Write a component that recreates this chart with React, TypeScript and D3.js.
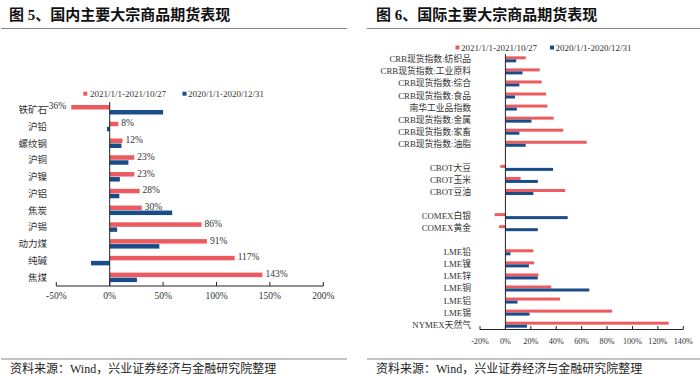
import React from "react";
import * as d3 from "d3";

const leftCats = ["铁矿石", "沪铅", "螺纹钢", "沪铜", "沪镍", "沪铝", "焦炭", "沪锡", "动力煤", "纯碱", "焦煤"];
const left2021 = [-36, 8, 12, 23, 23, 28, 30, 86, 91, 117, 143];
const left2020 = [50, -2.5, 11, 17.5, 9.5, 9, 58.5, 7, 46.5, -17.5, 25.5];
const leftTicks = [-50, 0, 50, 100, 150, 200];

const rightCats = [
  "CRB现货指数:纺织品", "CRB现货指数:工业原料", "CRB现货指数:综合", "CRB现货指数:食品",
  "南华工业品指数", "CRB现货指数:金属", "CRB现货指数:家畜", "CRB现货指数:油脂",
  "", "CBOT大豆", "CBOT玉米", "CBOT豆油", " ", "COMEX白银", "COMEX黄金", "  ",
  "LME铅", "LME镍", "LME锌", "LME铜", "LME铝", "LME锡", "NYMEX天然气",
];
const right2021 = [16, 27, 28.5, 32, 33, 38, 45.5, 64, null, -4, 12, 47, null, -8.5, -5, null, 22, 22.5, 26, 36, 43, 84, 128.5];
const right2020 = [8.5, 13.5, 11, 7.5, 9, 20.5, 11, 16, null, 37.5, 25.5, 22, null, 49, 25.5, null, 4, 18.5, 25.5, 66, 9.5, 19, 17];
const rightTicks = [-20, 0, 20, 40, 60, 80, 100, 120, 140];

const seriesNames = ["2021/1/1-2021/10/27", "2020/1/1-2020/12/31"];
const RED = "#EC5B5F";
const BLUE = "#1B4C8A";
const FONT = "'Liberation Serif', 'Noto Sans CJK SC', serif";

export default function App() {
  const xL = d3.scaleLinear().domain([-50, 200]).range([56.3, 323.3]);
  const yL = d3.scaleBand<string>().domain(leftCats).range([101.6, 286]).padding(0);
  const xR = d3.scaleLinear().domain([-20, 140]).range([480, 683.3]);
  const yR = d3.scaleBand<string>().domain(rightCats).range([53.3, 330.7]).padding(0);
  const axL = 286;
  const axR = 329.5;

  return (
    <svg width={700} height={379} style={{ position: "absolute", left: 0, top: 0, background: "#fff" }} fontFamily={FONT}>
      <rect x={0} y={0} width={700} height={379} fill="#fff" />
      {/* titles */}
      <text x={9} y={19.5} fontSize={15} fontWeight="bold" fill="#111">图 5、国内主要大宗商品期货表现</text>
      <text x={376} y={19.5} fontSize={15} fontWeight="bold" fill="#111">图 6、国际主要大宗商品期货表现</text>
      <line x1={1} x2={347} y1={28.5} y2={28.5} stroke="#888" strokeWidth={1.2} />
      <line x1={367} x2={700} y1={28.5} y2={28.5} stroke="#888" strokeWidth={1.2} />
      <line x1={1} x2={347} y1={359} y2={359} stroke="#888" strokeWidth={1.2} />
      <line x1={367} x2={700} y1={359} y2={359} stroke="#888" strokeWidth={1.2} />
      <text x={10} y={373} fontSize={12} fill="#222">资料来源：Wind，兴业证券经济与金融研究院整理</text>
      <text x={376} y={373} fontSize={12} fill="#222">资料来源：Wind，兴业证券经济与金融研究院整理</text>

      {/* left legend */}
      <rect x={83.3} y={91.7} width={4} height={4} fill={RED} />
      <text x={90} y={97} fontSize={9} fill="#333">{seriesNames[0]}</text>
      <rect x={182.5} y={91.7} width={4} height={4} fill={BLUE} />
      <text x={188} y={97} fontSize={9} fill="#333">{seriesNames[1]}</text>

      {/* left bars */}
      {leftCats.map((c, i) => {
        const cy = (yL(c) as number) + yL.bandwidth() / 2;
        const v1 = left2021[i];
        const v2 = left2020[i];
        return (
          <g key={c}>
            <rect x={Math.min(xL(0), xL(v1))} y={cy - 5} width={Math.abs(xL(v1) - xL(0))} height={4.5} fill={RED} />
            <rect x={Math.min(xL(0), xL(v2))} y={cy} width={Math.abs(xL(v2) - xL(0))} height={4.5} fill={BLUE} />
            <text x={47} y={cy} fontSize={9.5} textAnchor="end" dominantBaseline="central" fill="#333">{c}</text>
            <text
              x={v1 >= 0 ? xL(v1) + 3 : xL(v1) - 5}
              y={cy - 3.5}
              fontSize={9.5}
              textAnchor={v1 >= 0 ? "start" : "end"}
              dominantBaseline="central"
              fill="#333"
            >{`${v1}%`}</text>
          </g>
        );
      })}
      <line x1={xL(0)} x2={xL(0)} y1={102} y2={axL} stroke="#222" strokeWidth={1} />
      <line x1={xL(-50)} x2={xL(200)} y1={axL} y2={axL} stroke="#222" strokeWidth={1} />
      {leftTicks.map((t) => (
        <g key={t}>
          <line x1={xL(t)} x2={xL(t)} y1={axL} y2={axL - 4} stroke="#222" strokeWidth={1} />
          <text x={xL(t)} y={axL + 13} fontSize={9.5} textAnchor="middle" fill="#333">{`${t}%`}</text>
        </g>
      ))}

      {/* right legend */}
      <rect x={455.5} y={45.5} width={4} height={4} fill={RED} />
      <text x={461} y={50.5} fontSize={9} fill="#333">{seriesNames[0]}</text>
      <rect x={550} y={45.5} width={4} height={4} fill={BLUE} />
      <text x={555.5} y={50.5} fontSize={9} fill="#333">{seriesNames[1]}</text>

      {/* right bars */}
      {rightCats.map((c, i) => {
        const cy = (yR(c) as number) + yR.bandwidth() / 2;
        const v1 = right2021[i];
        const v2 = right2020[i];
        return (
          <g key={"r" + i}>
            {v1 !== null && (
              <rect x={Math.min(xR(0), xR(v1))} y={cy - 3} width={Math.abs(xR(v1) - xR(0))} height={3} fill={RED} />
            )}
            {v2 !== null && (
              <rect x={Math.min(xR(0), xR(v2))} y={cy} width={Math.abs(xR(v2) - xR(0))} height={3} fill={BLUE} />
            )}
            <text x={471} y={cy} fontSize={8.8} textAnchor="end" dominantBaseline="central" fill="#333">{c.trim()}</text>
          </g>
        );
      })}
      <line x1={xR(0)} x2={xR(0)} y1={54} y2={axR} stroke="#222" strokeWidth={1} />
      <line x1={xR(-20)} x2={xR(140)} y1={axR} y2={axR} stroke="#222" strokeWidth={1} />
      {rightTicks.map((t) => (
        <g key={t}>
          <line x1={xR(t)} x2={xR(t)} y1={axR} y2={axR - 3.5} stroke="#222" strokeWidth={1} />
          <text x={xR(t)} y={axR + 14} fontSize={8.2} textAnchor="middle" fill="#333">{`${t}%`}</text>
        </g>
      ))}
    </svg>
  );
}
